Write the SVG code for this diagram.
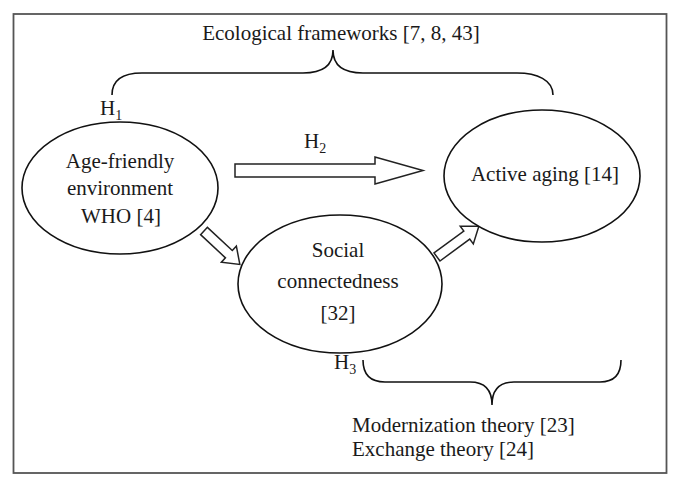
<svg xmlns="http://www.w3.org/2000/svg" width="681" height="488" viewBox="0 0 681 488">
<style>
text{font-family:"Liberation Serif","Times New Roman",serif;font-size:21px;fill:#1a1a1a}
.node ellipse{fill:#fff;stroke:#111;stroke-width:1.6}
.arrow{fill:#fff;stroke:#222;stroke-width:1.5;stroke-linejoin:miter}
.brace{fill:none;stroke:#111;stroke-width:1.6}
.sub{font-size:14px}
</style>
<rect x="13.5" y="14" width="653" height="459" fill="#fff" stroke="#555" stroke-width="1.8"/>
<g id="braces">
<path class="brace" d="M112,95 C112,80 122,73 142,73 L303,73 C323,73 333,65 333,50 C333,65 343,73 363,73 L517,73 C537,73 553,80 553,95"/>
<path class="brace" d="M363,360 C363,374 370,382 385,382 L470,382 C485,382 492,390 492,405 C492,390 499,382 514,382 L600,382 C615,382 621,374 621,360"/>
</g>
<text x="341" y="40" text-anchor="middle">Ecological frameworks [7, 8, 43]</text>
<text x="100" y="115" font-size="20">H<tspan class="sub" dy="5">1</tspan></text>
<text x="304" y="148" font-size="20">H<tspan class="sub" dy="5">2</tspan></text>
<text x="334" y="369" font-size="20">H<tspan class="sub" dy="5">3</tspan></text>
<text x="352" y="432">Modernization theory [23]</text>
<text x="352" y="456">Exchange theory [24]</text>
<g id="connectors">
<path class="arrow" transform="translate(235,170.5)" d="M0,-6.5 L140,-6.5 L140,-13.5 L188,0 L140,13.5 L140,6.5 L0,6.5Z"/>
<path class="arrow" transform="translate(204,231) rotate(43)" d="M0,-5 L34,-5 L34,-11 L49,0 L34,11 L34,5 L0,5Z"/>
<path class="arrow" transform="translate(437,257) rotate(-36.4)" d="M0,-5 L37,-5 L37,-11 L52,0 L37,11 L37,5 L0,5Z"/>
</g>
<g id="age-friendly" class="node">
<ellipse cx="120" cy="188" rx="98" ry="66"/>
<text x="120" y="168" text-anchor="middle">Age-friendly</text>
<text x="120" y="195" text-anchor="middle">environment</text>
<text x="121" y="223" text-anchor="middle">WHO [4]</text>
</g>
<g id="active-aging" class="node">
<ellipse cx="542" cy="176" rx="98" ry="66"/>
<text x="545" y="181" text-anchor="middle">Active aging [14]</text>
</g>
<g id="social" class="node">
<ellipse cx="340" cy="284" rx="102" ry="69"/>
<text x="338" y="257" text-anchor="middle">Social</text>
<text x="338" y="288" text-anchor="middle">connectedness</text>
<text x="338" y="320" text-anchor="middle">[32]</text>
</g>
</svg>
